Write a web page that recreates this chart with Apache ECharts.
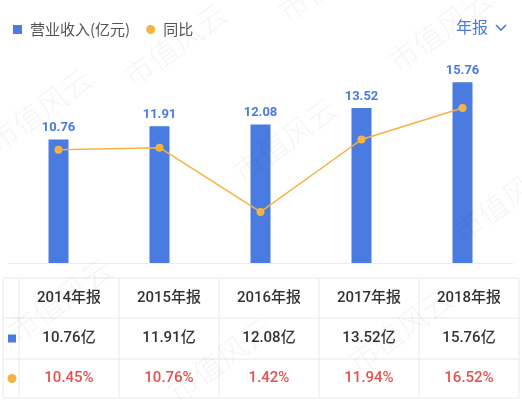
<!DOCTYPE html>
<html><head><meta charset="utf-8">
<script src="https://cdn.jsdelivr.net/npm/echarts@6/dist/echarts.min.js"></script>
<style>html,body{margin:0;padding:0;background:#fff}#c{width:522px;height:404px}</style>
</head><body><div id="c"></div>
<script>
const categories = ['2014年报','2015年报','2016年报','2017年报','2018年报'];
const revenue = [10.76, 11.91, 12.08, 13.52, 15.76];
const yoy = [10.45, 10.76, 1.42, 11.94, 16.52];
const seriesNames = ['营业收入(亿元)', '同比'];

const BLUE = '#4a7be0', ORANGE = '#f5b441', RED = '#e8504c', LINE = '#e9e9e9';
const FONT = 'Roboto, "Noto Sans CJK SC", sans-serif';

const chart = echarts.init(document.getElementById('c'));

// table layout
const tblL = 3, tblR = 519, firstCol = 19;
const rowY = [278, 318, 359, 398];
const colW = (tblR - firstCol) / categories.length;
const g = [];
rowY.forEach(y => g.push({type:'line', shape:{x1:tblL,y1:y,x2:tblR,y2:y}, style:{stroke:LINE,lineWidth:1}, silent:true}));
[tblL, firstCol].concat(categories.map((c,i)=>firstCol+colW*(i+1))).forEach(x =>
  g.push({type:'line', shape:{x1:x,y1:rowY[0],x2:x,y2:rowY[3]}, style:{stroke:LINE,lineWidth:1}, silent:true}));
g.push({type:'rect', shape:{x:8,y:(rowY[1]+rowY[2])/2-4,width:8,height:8}, style:{fill:BLUE}});
g.push({type:'circle', shape:{cx:12,cy:(rowY[2]+rowY[3])/2,r:4.5}, style:{fill:ORANGE}});
categories.forEach((c,i) => {
  const cx = firstCol + colW*(i+0.5);
  const rows = [
    {t:c, color:'#333'},
    {t:revenue[i].toFixed(2)+'亿', color:'#333'},
    {t:yoy[i].toFixed(2)+'%', color:RED}
  ];
  rows.forEach((r,j) => {
    g.push({type:'text', x:cx, y:(rowY[j]+rowY[j+1])/2, style:{text:r.t, fill:r.color, font:'500 15px '+FONT, align:'center', verticalAlign:'middle'}});
  });
});
g.push({type:'text', x:472, y:27, style:{text:'年报', fill:BLUE, font:'16px "Noto Sans CJK SC", sans-serif', align:'center', verticalAlign:'middle'}});
g.push({type:'polyline', shape:{points:[[496,25],[501,30],[506,25]]}, style:{stroke:BLUE, lineWidth:1.6, fill:null}});
// watermark
const wm = [[175,45],[285,140],[60,300],[400,330],[220,360],[440,30],[40,110],[505,200],[330,-20]];
wm.forEach(p => g.push({type:'text', x:p[0], y:p[1], rotation:Math.PI*0.2, z:100, silent:true,
  style:{text:'市值风云', fill:'rgba(0,0,0,0.045)', font:'300 30px "Noto Sans CJK SC", serif', align:'center', verticalAlign:'middle'}}));

chart.setOption({
  backgroundColor:'#fff',
  animation:false,
  legend:{left:8, top:17, itemWidth:9, itemHeight:9, itemGap:16,
    textStyle:{fontSize:15, color:'#555', fontFamily:'"Noto Sans CJK SC", sans-serif', padding:[0,0,0,3]},
    data:[{name:seriesNames[0], icon:'rect'},{name:seriesNames[1], icon:'circle'}]},
  grid:{left:8, right:9, top:56.5, bottom:404-263},
  xAxis:{type:'category', data:categories, axisLine:{lineStyle:{color:'#ececec'}}, axisTick:{show:false}, axisLabel:{show:false}},
  yAxis:[
    {type:'value', min:0, max:18, show:false, splitLine:{show:false}},
    {type:'value', min:-6, max:24, show:false, splitLine:{show:false}}
  ],
  series:[
    {name:seriesNames[0], type:'bar', data:revenue, barWidth:20, itemStyle:{color:BLUE},
     label:{show:true, position:'top', distance:5, color:BLUE, fontSize:13, fontWeight:'bold', fontFamily:FONT, formatter:p=>p.value.toFixed(2)}},
    {name:seriesNames[1], type:'line', yAxisIndex:1, data:yoy, symbol:'circle', symbolSize:8,
     itemStyle:{color:ORANGE}, lineStyle:{color:ORANGE, width:1.5}}
  ],
  graphic:g
});
</script></body></html>
